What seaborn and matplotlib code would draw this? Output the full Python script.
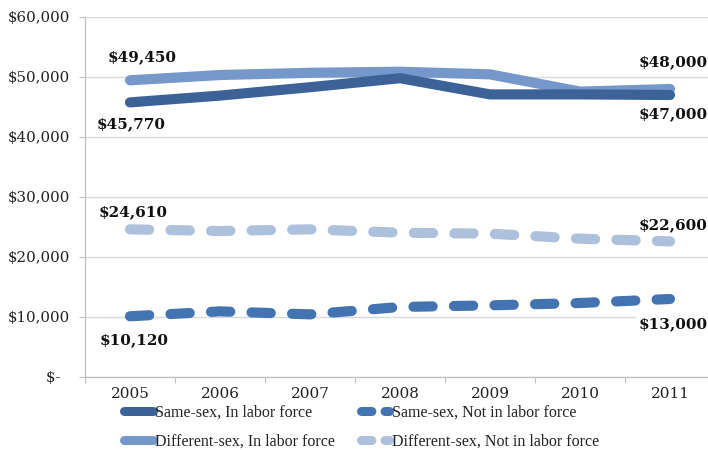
import matplotlib
matplotlib.use("Agg")
import matplotlib.pyplot as plt
from matplotlib.lines import Line2D
from matplotlib.ticker import FuncFormatter, FixedLocator
import seaborn as sns
import pandas as pd

years = ["2005", "2006", "2007", "2008", "2009", "2010", "2011"]

same_in = [45770, 46900, 48300, 49800, 47100, 47100, 47000]
same_out = [10120, 10940, 10440, 11670, 11940, 12330, 13000]
diff_in = [49450, 50330, 50700, 50880, 50440, 47570, 48000]
diff_out = [24610, 24330, 24610, 24050, 23890, 23060, 22600]

series_names = [
    "Same-sex, In labor force",
    "Same-sex, Not in labor force",
    "Different-sex, In labor force",
    "Different-sex, Not in labor force",
]
series_values = [same_in, same_out, diff_in, diff_out]
colors = ["#3c6297", "#4373b1", "#7597c9", "#adc0dc"]
dashed = [False, True, False, True]

sns.set_theme(style="white")
plt.rcParams["font.family"] = ["DejaVu Serif"]

fig = plt.figure(figsize=(7.08, 4.5), dpi=100)
ax = fig.add_axes([85 / 708, 1 - 377 / 450, 630 / 708, 360 / 450])

pos = list(range(len(years)))
frames = []
for name, vals in zip(series_names, series_values):
    frames.append(pd.DataFrame({"pos": pos, "value": vals, "series": name}))
df = pd.concat(frames, ignore_index=True)

# draw the lighter different-sex lines first so same-sex lines sit on top
draw_order = [3, 1, 2, 0]
for i in draw_order:
    name = series_names[i]
    sub = df[df["series"] == name]
    sns.lineplot(data=sub, x="pos", y="value", ax=ax, color=colors[i],
                 linewidth=7.3, legend=False, zorder=3 + (i == 0),
                 estimator=None, sort=False)
    line = ax.lines[-1]
    if dashed[i]:
        line.set_linestyle((0, (1.9, 2.1)))
        line.set_dash_capstyle("round")
    else:
        line.set_solid_capstyle("round")
        line.set_solid_joinstyle("round")

# axes styling
ax.set_xlim(-0.5, 6.5)
ax.set_ylim(0, 60000)
ax.set_xlabel("")
ax.set_ylabel("")
ax.set_xticks(pos)
ax.set_xticklabels(years, fontsize=11, color="#222222")
ax.xaxis.set_minor_locator(FixedLocator([p - 0.5 for p in range(len(years) + 1)]))
ax.tick_params(axis="x", which="major", length=0, pad=7)
ax.tick_params(axis="x", which="minor", length=4, width=0.8, color="#bfbfbf",
               direction="out", bottom=True)
ax.set_yticks(range(0, 60001, 10000))
ax.yaxis.set_major_formatter(
    FuncFormatter(lambda v, p: "$-  " if v == 0 else f"${int(v):,}"))
ax.tick_params(axis="y", which="major", length=4, width=0.8, color="#bfbfbf",
               direction="out", left=True, pad=7, labelsize=10.8,
               labelcolor="#222222")
ax.grid(axis="y", color="#d9d9d9", linewidth=1)
ax.grid(axis="x", visible=False)
for side in ("top", "right"):
    ax.spines[side].set_visible(False)
for side in ("left", "bottom"):
    ax.spines[side].set_color("#bfbfbf")
    ax.spines[side].set_linewidth(0.9)
ax.set_axisbelow(True)

# end-point value labels
label_style = dict(fontsize=11, fontweight="bold", color="#111111",
                   ha="center", va="center", zorder=6,
                   bbox=dict(fc="white", ec="none", pad=1.5))
end_offsets = {
    0: ((1, -16), (2, -14)),
    1: ((3, -17), (2, -18)),
    2: ((9, 17), (2, 19)),
    3: ((2, 12), (2, 12)),
}
for i, vals in enumerate(series_values):
    (dx0, dy0), (dx1, dy1) = end_offsets[i]
    ax.annotate(f"${vals[0]:,}", xy=(0, vals[0]), xytext=(dx0, dy0),
                textcoords="offset points", **label_style)
    ax.annotate(f"${vals[-1]:,}", xy=(6, vals[-1]), xytext=(dx1, dy1),
                textcoords="offset points", **label_style)

# legend: two rows, two columns; dashed handles show a dash and a dot
handles = []
for i in range(4):
    h = Line2D([0], [0], color=colors[i], linewidth=6.5,
               linestyle=(0, (1.15, 1.46)) if dashed[i] else "-",
               dash_capstyle="round", solid_capstyle="round")
    handles.append(h)
order = [0, 2, 1, 3]
fig.legend([handles[k] for k in order], [series_names[k] for k in order],
           loc="upper left", bbox_to_anchor=(124 / 708, 1 - 405 / 450),
           ncol=2, frameon=False, handlelength=1.8,
           prop={"family": "Liberation Serif", "size": 11.5},
           handletextpad=0.15, columnspacing=1.6, labelspacing=0.8,
           borderpad=0, borderaxespad=0, labelcolor="#222222")

fig.savefig("out.png", dpi=100)
